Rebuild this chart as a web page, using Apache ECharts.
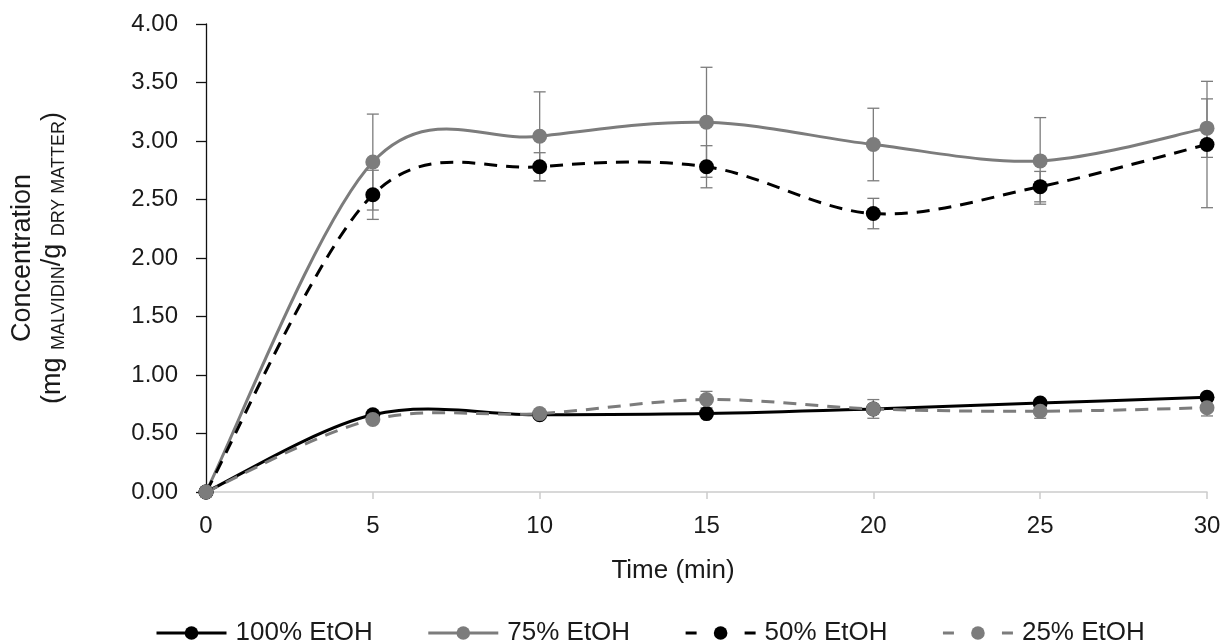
<!DOCTYPE html>
<html>
<head>
<meta charset="utf-8">
<script src="https://cdn.jsdelivr.net/npm/echarts@6/dist/echarts.min.js"></script>
<style>html,body{margin:0;padding:0;background:#fff}#c{width:1230px;height:644px}</style>
</head>
<body>
<div id="c"></div>
<script>
var times = [0, 5, 10, 15, 20, 25, 30];
var seriesNames = ['100% EtOH', '75% EtOH', '50% EtOH', '25% EtOH'];
var v100 = [0, 0.66, 0.66, 0.67, 0.71, 0.76, 0.81];
var v75  = [0, 2.82, 3.04, 3.16, 2.97, 2.83, 3.11];
var v50  = [0, 2.54, 2.78, 2.78, 2.38, 2.61, 2.97];
var v25  = [0, 0.62, 0.67, 0.79, 0.71, 0.69, 0.72];
var e100 = [0, 0, 0, 0, 0, 0, 0];
var e75  = [0, 0.41, 0.38, 0.47, 0.31, 0.37, 0.25];
var e50  = [0, 0.21, 0.12, 0.18, 0.13, 0.13, 0.54];
var e25  = [0, 0.02, 0.02, 0.07, 0.08, 0.06, 0.07];
var yTicks = ['0.00','0.50','1.00','1.50','2.00','2.50','3.00','3.50','4.00'];

var FONT = '"Liberation Sans", Arial, Helvetica, sans-serif';
var GRAY = '#7c7c7c';
var TXT = '#1a1a1a';
var DASH = [13, 9];

function pairs(v){ return times.map(function(t,i){ return [t, v[i]]; }); }
function errData(v, e){ return times.map(function(t,i){ return [t, v[i], e[i]]; }); }

function errSeries(v, e){
  return {
    type: 'custom',
    silent: true,
    z: 1,
    data: errData(v, e),
    renderItem: function(params, api){
      var x = api.value(0), y = api.value(1), err = api.value(2);
      if (!err) return null;
      var top = api.coord([x, y + err]);
      var bot = api.coord([x, y - err]);
      var hw = 6;
      return {
        type: 'group',
        children: [
          {type:'line', shape:{x1:top[0], y1:top[1], x2:bot[0], y2:bot[1]}, style:{stroke:GRAY, lineWidth:1.3}},
          {type:'line', shape:{x1:top[0]-hw, y1:top[1], x2:top[0]+hw, y2:top[1]}, style:{stroke:GRAY, lineWidth:1.3}},
          {type:'line', shape:{x1:bot[0]-hw, y1:bot[1], x2:bot[0]+hw, y2:bot[1]}, style:{stroke:GRAY, lineWidth:1.3}}
        ]
      };
    }
  };
}

/* smoothed curve (Excel-like Catmull-Rom) through the data points, positioned by api.coord */
function curveSeries(v, color, dashed, z){
  return {
    type: 'custom',
    silent: true,
    z: z,
    data: pairs(v),
    renderItem: function(params, api){
      if (params.dataIndex !== 0) return null;
      var P = times.map(function(t, i){ return api.coord([t, v[i]]); });
      var n = P.length;
      var d = 'M' + P[0][0] + ' ' + P[0][1];
      for (var i = 0; i < n - 1; i++){
        var p0 = P[Math.max(i - 1, 0)], p1 = P[i], p2 = P[i + 1], p3 = P[Math.min(i + 2, n - 1)];
        var c1x = p1[0] + (p2[0] - p0[0]) / 6, c1y = p1[1] + (p2[1] - p0[1]) / 6;
        var c2x = p2[0] - (p3[0] - p1[0]) / 6, c2y = p2[1] - (p3[1] - p1[1]) / 6;
        d += ' C' + c1x + ' ' + c1y + ' ' + c2x + ' ' + c2y + ' ' + p2[0] + ' ' + p2[1];
      }
      return {
        type: 'path',
        shape: {pathData: d},
        style: {fill: null, stroke: color, lineWidth: 3, lineDash: dashed ? DASH : null, lineCap: 'butt'}
      };
    }
  };
}

function markerSeries(name, v, color, dashed, z){
  return {
    name: name,
    type: 'line',
    z: z,
    data: pairs(v),
    symbol: 'circle',
    symbolSize: 15,
    showAllSymbol: true,
    itemStyle: {color: color},
    lineStyle: {color: color, width: 3, opacity: 0, type: dashed ? DASH : 'solid'},
    emphasis: {disabled: true},
    animation: false
  };
}

var legendData = [
  {name: seriesNames[0], lineStyle: {opacity: 1, width: 3, color: '#000', type: 'solid'}},
  {name: seriesNames[1], lineStyle: {opacity: 1, width: 3, color: GRAY, type: 'solid'}},
  {name: seriesNames[2], lineStyle: {opacity: 1, width: 3, color: '#000', type: [11, 48]}},
  {name: seriesNames[3], lineStyle: {opacity: 1, width: 3, color: GRAY, type: [11, 48]}}
];

var chart = echarts.init(document.getElementById('c'), null, {renderer: 'canvas'});
chart.setOption({
  animation: false,
  backgroundColor: '#fff',
  textStyle: {fontFamily: FONT},
  grid: {left: 206, right: 23, top: 24, bottom: 152, containLabel: false},
  legend: {
    top: 615,
    left: 150,
    itemWidth: 70,
    itemHeight: 17,
    itemGap: 54,
    textStyle: {fontFamily: FONT, fontSize: 26, color: TXT, padding: [0, 0, 0, 4]},
    data: legendData
  },
  xAxis: {
    type: 'value', min: 0, max: 30, interval: 5,
    name: 'Time (min)', nameLocation: 'middle', nameGap: 66,
    nameTextStyle: {fontFamily: FONT, fontSize: 26, color: TXT, padding: [0, 67, 0, 0]},
    axisLine: {show: true, lineStyle: {color: '#cccccc', width: 1.5}},
    axisTick: {show: true, length: 7, lineStyle: {color: '#cccccc', width: 1.5}},
    axisLabel: {fontFamily: FONT, fontSize: 24, color: TXT, margin: 22},
    splitLine: {show: false}
  },
  yAxis: {
    type: 'value', min: 0, max: 4, interval: 0.5,
    name: '{a|Concentration}\n{a|(mg }{s|MALVIDIN}{a|/g }{s|DRY MATTER}{a|)}',
    nameLocation: 'middle', nameGap: 138, nameRotate: 90,
    nameTextStyle: {
      fontFamily: FONT, color: TXT, fontSize: 27,
      rich: {
        a: {fontFamily: FONT, fontSize: 27, color: TXT, lineHeight: 30},
        s: {fontFamily: FONT, fontSize: 18, color: TXT, lineHeight: 30, verticalAlign: 'bottom', padding: [7, 0, 0, 0]}
      }
    },
    axisLine: {show: true, lineStyle: {color: '#111', width: 1.3}},
    axisTick: {show: true, inside: false, length: 10, lineStyle: {color: '#111', width: 1.3}},
    axisLabel: {
      fontFamily: FONT, fontSize: 24, color: TXT, margin: 28,
      formatter: function(val){ return yTicks[Math.round(val / 0.5)]; }
    },
    splitLine: {show: false}
  },
  series: [
    errSeries(v75, e75),
    errSeries(v50, e50),
    errSeries(v25, e25),
    errSeries(v100, e100),
    curveSeries(v100, '#000000', false, 2),
    curveSeries(v75, GRAY, false, 2),
    curveSeries(v50, '#000000', true, 2),
    curveSeries(v25, GRAY, true, 2),
    markerSeries(seriesNames[0], v100, '#000000', false, 3),
    markerSeries(seriesNames[1], v75, GRAY, false, 3),
    markerSeries(seriesNames[2], v50, '#000000', true, 3),
    markerSeries(seriesNames[3], v25, GRAY, true, 3)
  ]
});
</script>
</body>
</html>
